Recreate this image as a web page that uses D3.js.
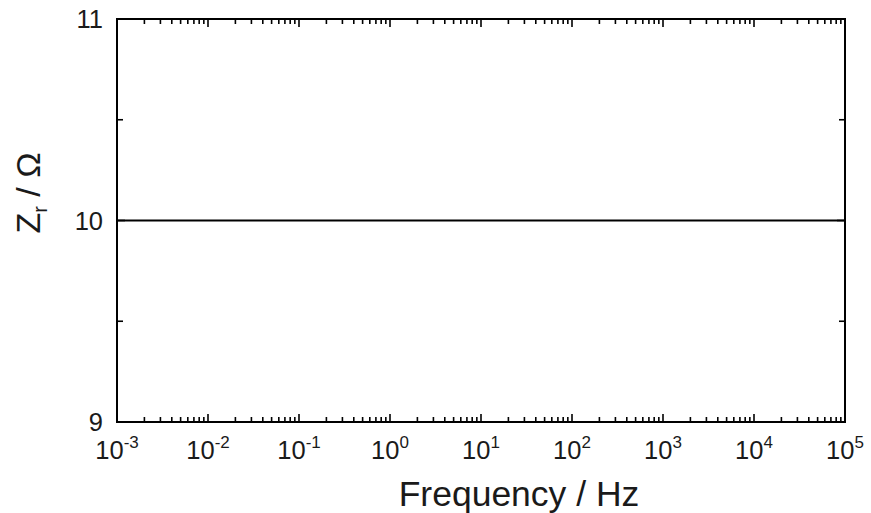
<!DOCTYPE html>
<html><head><meta charset="utf-8">
<script src="https://cdn.jsdelivr.net/npm/d3@7"></script>
<style>body{margin:0;background:#fff}svg{display:block}text{font-family:"Liberation Sans",Arial,sans-serif;fill:#1a1a1a}</style>
</head><body>
<svg id="c" width="871" height="513"></svg>
<script>
const frequency = [1e-3, 1e-2, 1e-1, 1e0, 1e1, 1e2, 1e3, 1e4, 1e5];
const zr = [10, 10, 10, 10, 10, 10, 10, 10, 10];
const xTickExponents = [-3, -2, -1, 0, 1, 2, 3, 4, 5];
const yTicks = [9, 10, 11];
const yMinorTicks = [9.5, 10.5];

const svg = d3.select("#c");
const L = 117, R = 845, T = 19, B = 422;
const x = d3.scaleLog().domain([1e-3, 1e5]).range([L, R]);
const y = d3.scaleLinear().domain([9, 11]).range([B, T]);
const g = svg.append("g");

const minors = [];
for (let e = -3; e < 5; e++) for (let k = 2; k <= 9; k++) minors.push(k * Math.pow(10, e));
const majorX = xTickExponents.map(e => Math.pow(10, e));

function tick(x1, y1, x2, y2) {
  g.append("line").attr("x1", x1).attr("y1", y1).attr("x2", x2).attr("y2", y2)
    .attr("stroke", "#000").attr("stroke-width", 1.6);
}
minors.forEach(v => { const px = x(v); tick(px, B, px, B - 5); tick(px, T, px, T + 5); });
majorX.forEach(v => { const px = x(v); tick(px, B, px, B - 8); tick(px, T, px, T + 8); });
yTicks.forEach(v => { const py = y(v); tick(L, py, L + 8, py); tick(R, py, R - 8, py); });
yMinorTicks.forEach(v => { const py = y(v); tick(L, py, L + 6, py); tick(R, py, R - 6, py); });

const line = d3.line().x((d, i) => x(frequency[i])).y(d => y(d));
g.append("path").datum(zr).attr("d", line).attr("fill", "none").attr("stroke", "#000").attr("stroke-width", 2);

g.append("rect").attr("x", L).attr("y", T).attr("width", R - L).attr("height", B - T)
  .attr("fill", "none").attr("stroke", "#000").attr("stroke-width", 2);

xTickExponents.forEach(e => {
  const t = g.append("text").attr("x", x(Math.pow(10, e))).attr("y", 459)
    .attr("text-anchor", "middle").attr("font-size", 25.5);
  t.append("tspan").text("10");
  t.append("tspan").attr("dy", -11).attr("font-size", 17).text(String(e));
});
yTicks.forEach(v => {
  g.append("text").attr("x", 103).attr("y", y(v)).attr("dy", "0.36em")
    .attr("text-anchor", "end").attr("font-size", 25.5).text(String(v));
});
g.append("text").attr("x", 519).attr("y", 506).attr("text-anchor", "middle")
  .attr("font-size", 35.5).text("Frequency / Hz");
const yt = g.append("text").attr("transform", "translate(40,193) rotate(-90)")
  .attr("text-anchor", "middle").attr("font-size", 34);
yt.append("tspan").text("Z");
yt.append("tspan").attr("dy", 7).attr("font-size", 20).text("r");
yt.append("tspan").attr("dy", -7).text(" / Ω");
</script>
</body></html>
